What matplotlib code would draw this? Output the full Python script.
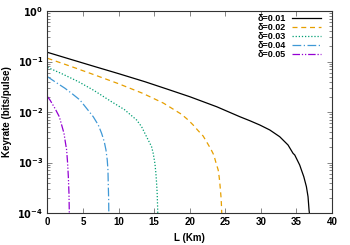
import numpy as np
import matplotlib
matplotlib.use("Agg")
import matplotlib.pyplot as plt
from matplotlib.ticker import LogLocator, FixedLocator, NullFormatter

# --- data (L in km, keyrate in bits/pulse) ---
labels = ["δ=0.01", "δ=0.02", "δ=0.03", "δ=0.04", "δ=0.05"]

L_001 = [0, 3.3, 6.7, 10.0, 13.7, 16.8, 20.0, 23.8, 27.04, 28.44, 29.85, 31.25, 32.65,
         33.82, 34.52, 34.76, 35.46, 35.7, 36.03, 36.4, 36.63, 36.77, 36.9]
R_001 = [0.152, 0.110, 0.079, 0.0575, 0.0398, 0.0285, 0.0201, 0.0127, 0.00807, 0.00673,
         0.00553, 0.00441, 0.00324, 0.00222, 0.00152, 0.00141, 0.00089, 0.00071, 0.000525,
         0.000332, 0.00021, 0.000115, 0.00008]

L_002 = [0, 3.3, 6.67, 10.0, 13.4, 16.3, 18.85, 19.78, 20.48, 21.18, 21.88, 22.44, 22.96,
         23.38, 23.67, 24.0, 24.13, 24.23, 24.32, 24.41, 24.46, 24.52]
R_002 = [0.116, 0.080, 0.054, 0.0363, 0.0234, 0.0150, 0.00900, 0.00695, 0.00553, 0.00427,
         0.00335, 0.00247, 0.00185, 0.00141, 0.00101, 0.00071, 0.000525, 0.000389,
         0.000277, 0.000195, 0.000138, 0.00008]

L_003 = [0, 2.0, 4.33, 6.5, 9.0, 10.8, 12.53, 13.23, 13.69, 14.16, 14.63, 14.86, 15.1,
         15.24, 15.34, 15.42, 15.48, 15.52]
R_003 = [0.0767, 0.0575, 0.040, 0.0269, 0.016, 0.0112, 0.00695, 0.00512, 0.00378, 0.00279,
         0.00206, 0.00152, 0.00096, 0.00061, 0.000387, 0.000245, 0.000133, 0.00008]

L_004 = [0, 1.2, 2.46, 3.5, 4.56, 5.5, 6.43, 7.14, 7.61, 7.98, 8.22, 8.4, 8.5, 8.54, 8.6, 8.63]
R_004 = [0.050, 0.0385, 0.0295, 0.0228, 0.0173, 0.0118, 0.00807, 0.00553, 0.00378,
         0.00258, 0.00177, 0.00112, 0.00071, 0.000389, 0.000182, 0.00008]

L_005 = [0, 0.35, 1.05, 1.66, 1.99, 2.32, 2.5, 2.69, 2.83, 2.93, 3.02, 3.06, 3.08]
R_005 = [0.0201, 0.0173, 0.0118, 0.00807, 0.00553, 0.00378, 0.00258, 0.00177, 0.00096,
         0.000525, 0.000245, 0.000115, 0.00008]

xticks = [0, 5, 10, 15, 20, 25, 30, 35, 40]

series = [(L_001, R_001), (L_002, R_002), (L_003, R_003), (L_004, R_004), (L_005, R_005)]
colors = ["black", "#e69f00", "#009e73", "#3f98d6", "#9400d3"]
styles = ["-", (0, (4, 3)), (0, (1, 1.5)), (0, (7, 2, 1, 2)), (0, (6, 1.5, 1, 1.5, 1, 1.5))]

plt.rcParams['font.family'] = ['Liberation Sans', 'DejaVu Sans']

fig = plt.figure(figsize=(3.5, 2.45), dpi=100)
ax = fig.add_axes([0.1357, 0.1306, 0.8129, 0.8244])

for (L, R), c, ls, lab in zip(series, colors, styles, labels):
    ax.plot(L, R, color=c, linestyle=ls, linewidth=0.9, label=lab)

ax.set_yscale('log')
ax.set_xlim(0, 40)
ax.set_ylim(1e-4, 1)
ax.set_xticks(xticks)
ax.set_xticklabels([str(t) for t in xticks], fontweight='bold', fontsize=7)
ax.yaxis.set_major_locator(FixedLocator([1e-4, 1e-3, 1e-2, 1e-1, 1]))
ax.set_yticklabels([r'$\mathbf{10^{-4}}$', r'$\mathbf{10^{-3}}$', r'$\mathbf{10^{-2}}$',
                    r'$\mathbf{10^{-1}}$', r'$\mathbf{10^{0}}$'], fontsize=7)
ax.yaxis.set_minor_locator(LogLocator(base=10, subs=np.arange(2, 10), numticks=20))
ax.yaxis.set_minor_formatter(NullFormatter())

ax.tick_params(which='both', direction='in', top=True, right=True, width=0.5, colors='#555555', labelcolor='black')
ax.tick_params(which='major', length=3.5, pad=3)
ax.tick_params(which='minor', length=2)
for s in ax.spines.values():
    s.set_linewidth(0.8)
    s.set_color('#333333')

ax.set_xlabel('L (Km)', fontweight='bold', fontsize=7, labelpad=4)
ax.set_ylabel('Keyrate (bits/pulse)', fontweight='bold', fontsize=7, labelpad=4)

leg = ax.legend(loc='upper right', bbox_to_anchor=(0.968, 0.995), frameon=False, markerfirst=False,
                handlelength=3.2, handleheight=0.5, handletextpad=0.7, labelspacing=0.0,
                borderaxespad=0.0, borderpad=0.2, prop={'weight': 'bold', 'size': 6.5})

fig.savefig('out.png', dpi=100)
